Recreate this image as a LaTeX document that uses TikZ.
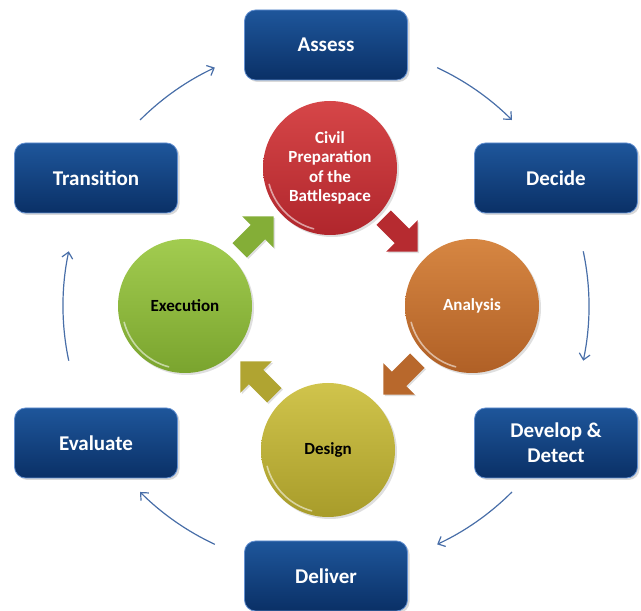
\documentclass[tikz,border=0pt]{standalone}
\usepackage{fontspec}
\setmainfont{Carlito}
\usepackage{xcolor}
\usepackage{tikz}
\usetikzlibrary{calc,shapes.arrows,shadows,arrows.meta}

\definecolor{boxtop}{RGB}{30,86,155}
\definecolor{boxbot}{RGB}{10,48,102}
\definecolor{boxrim}{RGB}{100,145,210}
\definecolor{flowblue}{RGB}{72,110,168}
\definecolor{redtop}{RGB}{214,70,72}
\definecolor{redbot}{RGB}{176,38,44}
\definecolor{orangetop}{RGB}{214,134,66}
\definecolor{orangebot}{RGB}{176,96,38}
\definecolor{yellowtop}{RGB}{208,196,76}
\definecolor{yellowbot}{RGB}{168,156,42}
\definecolor{greentop}{RGB}{162,204,80}
\definecolor{greenbot}{RGB}{122,164,46}

\tikzset{
  phase/.style={rectangle, rounded corners=11pt, minimum width=163pt, minimum height=70pt,
    top color=boxtop, bottom color=boxbot, draw=boxrim, line width=0.8pt,
    text=white, align=center, font=\fontsize{21}{25}\selectfont\bfseries,
    drop shadow={shadow xshift=2pt, shadow yshift=-2pt, opacity=0.3}},
  stage/.style={circle, minimum size=134pt, inner sep=0pt, align=center,
    font=\fontsize{17}{19.5}\selectfont\bfseries,
    drop shadow={shadow xshift=2pt, shadow yshift=-2pt, opacity=0.25}},
  turn/.style={single arrow, minimum height=48pt, minimum width=44pt, inner sep=10pt,
    single arrow head extend=12pt,
    drop shadow={shadow xshift=1.5pt, shadow yshift=-1.5pt, opacity=0.25}},
  flow/.style={draw=flowblue, line width=1.2pt, -{Straight Barb[length=6pt,width=11pt]}},
}

\begin{document}
\begin{tikzpicture}[x=1pt,y=1pt]
    \useasboundingbox (0,0) rectangle (641,611);

    % outer cycle
    \node[phase] (assess) at (326,566) {Assess};
    \node[phase] (decide) at (556,433) {Decide};
    \node[phase] (develop) at (556,168) {Develop \&\\Detect};
    \node[phase] (deliver) at (326,35) {Deliver};
    \node[phase] (evaluate) at (96,168) {Evaluate};
    \node[phase] (transition) at (96,433) {Transition};

    % inner cycle
    \node[stage, top color=redtop, bottom color=redbot, text=white] (civil) at (330,443) {Civil\\Preparation\\of the\\Battlespace};
    \node[stage, top color=orangetop, bottom color=orangebot, text=white] (analysis) at (472,305) {Analysis};
    \node[stage, top color=yellowtop, bottom color=yellowbot, text=black] (design) at (328,161) {Design};
    \node[stage, top color=greentop, bottom color=greenbot, text=black] (execution) at (185,305) {Execution};

    % glossy rims
    \foreach \c in {civil,analysis,design,execution}
        \draw[white, opacity=0.55, line width=1.6pt, line cap=round]
            ($(\c)+(195:63)$) arc[start angle=195, end angle=255, radius=63];

    % block arrows between the stages
    \node[turn, fill=redbot!85!redtop, rotate=-45] (civil2analysis) at (397,380) {};
    \node[turn, fill=orangebot!80!orangetop, rotate=-135] (analysis2design) at (404,237) {};
    \node[turn, fill=yellowbot!80!yellowtop, rotate=135] (design2execution) at (261,229) {};
    \node[turn, fill=greenbot!75!greentop, rotate=45] (execution2civil) at (253,374) {};

    % thin arcs of the outer cycle
    \coordinate (hub) at (326,305);
    \coordinate (a1) at ($(hub)+(65:263)$);
    \coordinate (a2) at ($(hub)+(12:263)$);
    \coordinate (a3) at ($(hub)+(-45:263)$);
    \coordinate (a4) at ($(hub)+(-115:263)$);
    \coordinate (a5) at ($(hub)+(192:263)$);
    \coordinate (a6) at ($(hub)+(135:263)$);

    \draw[flow] (a1) arc[start angle=65, end angle=45, radius=263];
    \draw[flow] (a2) arc[start angle=12, end angle=-12, radius=263];
    \draw[flow] (a3) arc[start angle=-45, end angle=-65, radius=263];
    \draw[flow] (a4) arc[start angle=-115, end angle=-135, radius=263];
    \draw[flow] (a5) arc[start angle=192, end angle=168, radius=263];
    \draw[flow] (a6) arc[start angle=135, end angle=115, radius=263];

\end{tikzpicture}
\end{document}
